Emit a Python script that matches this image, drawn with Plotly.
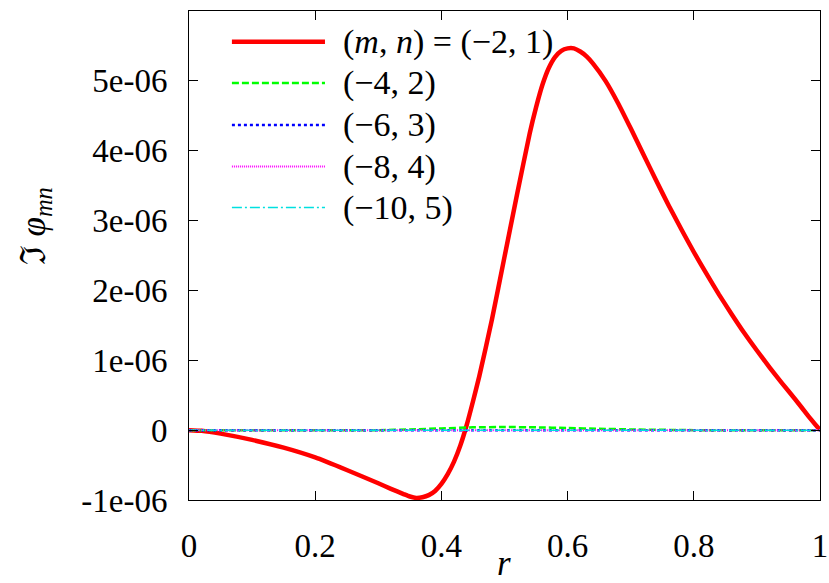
"""
Imaginary part of phi_mn versus r for several (m, n) harmonics.
"""

import plotly.graph_objects as go

# red curve, (m, n) = (-2, 1), values in units of 1e-06
r_21 = [0.0, 0.02, 0.05, 0.10, 0.15, 0.20, 0.25, 0.30, 0.32, 0.34, 0.35,
        0.36, 0.37, 0.38, 0.39, 0.40, 0.41, 0.42, 0.43, 0.44, 0.45, 0.46,
        0.48, 0.50, 0.52, 0.54, 0.55, 0.56, 0.57, 0.58, 0.59, 0.60, 0.61,
        0.62, 0.63, 0.64, 0.66, 0.68, 0.70, 0.72, 0.74, 0.76, 0.78, 0.80,
        0.82, 0.84, 0.86, 0.88, 0.90, 0.92, 0.94, 0.96, 0.98, 1.0]
phi_21 = [0.0, -0.01, -0.05, -0.14, -0.25, -0.39, -0.57, -0.76, -0.84, -0.915,
          -0.95, -0.97, -0.96, -0.93, -0.87, -0.77, -0.63, -0.45, -0.22,
          0.07, 0.41, 0.77, 1.58, 2.48, 3.38, 4.25, 4.62, 4.94, 5.18, 5.34,
          5.43, 5.465, 5.465, 5.42, 5.35, 5.25, 5.00, 4.68, 4.32, 3.95, 3.58,
          3.22, 2.88, 2.55, 2.24, 1.94, 1.66, 1.39, 1.14, 0.90, 0.67, 0.45,
          0.22, 0.0]

# the higher harmonics stay close to zero
r_small = [0.0, 0.1, 0.2, 0.3, 0.35, 0.4, 0.45, 0.5, 0.55, 0.6, 0.65, 0.7,
           0.8, 0.9, 1.0]
phi_42 = [0.0, 0.0, 0.0, 0.0, 0.01, 0.025, 0.04, 0.045, 0.04, 0.03, 0.02,
          0.01, 0.0, 0.0, 0.0]
phi_63 = [0.0, 0.0, 0.0, 0.0, 0.0, 0.0, 0.0, 0.0, 0.0, 0.0, 0.0, 0.0, 0.0,
          0.0, 0.0]
phi_84 = [0.0, 0.0, 0.0, 0.0, 0.0, 0.0, 0.0, 0.0, 0.0, 0.0, 0.0, 0.0, 0.0,
          0.0, 0.0]
phi_105 = [0.0, 0.0, 0.0, 0.0, 0.0, 0.0, 0.0, 0.0, 0.0, 0.0, 0.0, 0.0, 0.0,
           0.0, 0.0]

labels = ["(<i>m</i>, <i>n</i>) = (\u22122, 1)", "(\u22124, 2)", "(\u22126, 3)",
          "(\u22128, 4)", "(\u221210, 5)"]

x_ticks = [0, 0.2, 0.4, 0.6, 0.8, 1]
x_ticktext = ["0", "0.2", "0.4", "0.6", "0.8", "1"]
y_ticks = [-1e-06, 0, 1e-06, 2e-06, 3e-06, 4e-06, 5e-06, 6e-06]
y_ticktext = ["-1e-06", "0", "1e-06", "2e-06", "3e-06", "4e-06", "5e-06",
              "6e-06"]

FONT = "Liberation Serif, Times New Roman, serif"

styles = [
    dict(color="#ff0000", width=4.5, dash="solid"),
    dict(color="#00ff00", width=2.5, dash="7px,3px"),
    dict(color="#0000ff", width=2.5, dash="3px,3px"),
    dict(color="#ff00ff", width=2, dash="1px,1px"),
    dict(color="#00e0e0", width=1.5, dash="10px,3px,2px,3px"),
]

series = [(r_21, phi_21), (r_small, phi_42), (r_small, phi_63),
          (r_small, phi_84), (r_small, phi_105)]

fig = go.Figure()
for (xs, ys), style, name in zip(series, styles, labels):
    fig.add_trace(go.Scatter(
        x=xs, y=[v * 1e-06 for v in ys],
        mode="lines", name=name, line=dict(style, shape="spline", smoothing=0.5),
        showlegend=False,
    ))

# gnuplot style key: long line samples, text to the right
key_rows = [0.937, 0.853, 0.767, 0.682, 0.598]
for style, name, ky in zip(styles, labels, key_rows):
    fig.add_shape(type="line", xref="paper", yref="paper",
                  x0=0.068, x1=0.2155, y0=ky, y1=ky, line=style)
    fig.add_annotation(xref="paper", yref="paper", x=0.241, y=ky,
                       text=name, showarrow=False, xanchor="left",
                       yanchor="middle",
                       font=dict(family=FONT, size=34, color="black"))

# axis titles
fig.add_annotation(xref="paper", yref="paper", x=0.499, y=-0.13,
                   text="<i>r</i>", showarrow=False, yanchor="middle",
                   font=dict(family=FONT, size=35, color="black"))
fig.add_annotation(xref="paper", yref="paper", x=-0.244, y=0.56,
                   text="\u2111 <i>\u03c6</i><sub><i>mn</i></sub>",
                   textangle=-90, showarrow=False, xanchor="center",
                   yanchor="middle",
                   font=dict(family=FONT, size=35, color="black"))

axis_style = dict(
    showline=True, linecolor="black", linewidth=1, mirror="allticks",
    ticks="inside", ticklen=9, tickcolor="black", showgrid=False,
    zeroline=False, automargin=False,
    tickfont=dict(family=FONT, size=33, color="black"),
)

fig.update_xaxes(range=[0, 1], tickvals=x_ticks, ticktext=x_ticktext,
                 ticklabelstandoff=16, **axis_style)
fig.update_yaxes(range=[-1e-06, 6e-06], tickvals=y_ticks, ticktext=y_ticktext,
                 ticklabelstandoff=14, **axis_style)

fig.update_layout(
    width=829, height=583,
    margin=dict(l=189, r=9, t=11, b=83, autoexpand=False),
    paper_bgcolor="white", plot_bgcolor="white",
    font=dict(family=FONT, color="black"),
)

# drop the page's default body margin so the figure sits at the corner
fig.write_html(
    "out.html",
    config={"displayModeBar": False},
    post_script="document.body.style.margin='0';"
                "document.body.style.overflow='hidden';",
)
